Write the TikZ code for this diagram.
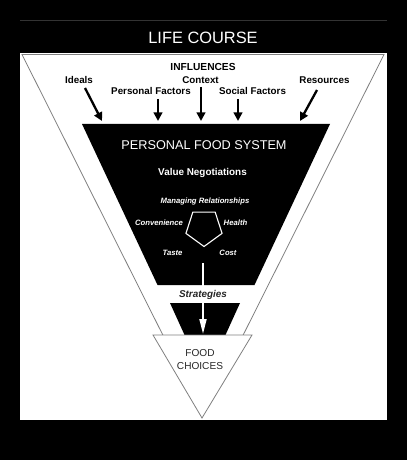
\documentclass[tikz,border=0pt]{standalone}
\usepackage{fontspec}
\setmainfont{Liberation Sans}
\usetikzlibrary{arrows.meta,shapes.geometric}
\begin{document}
\begin{tikzpicture}[x=1bp,y=-1bp,
  inf/.style={font=\fontsize{9.8bp}{11bp}\selectfont\bfseries, inner sep=0},
  infarrow/.style={line width=2.3bp, -{Triangle[length=8.5bp,width=8.5bp]}},
  wt/.style={text=white, inner sep=0},
  sm/.style={font=\fontsize{7.7bp}{9bp}\selectfont\bfseries\itshape, text=white, inner sep=0},
  outline/.style={draw=gray, line width=0.8bp}
]
\fill[black] (0,0) rectangle (407,460);
\useasboundingbox (0,0) rectangle (407,460);
\fill[white] (20,20) rectangle (387,420);
\fill[black!80] (20,20) rectangle (387,22);
\fill[black] (20,21.5) rectangle (387,53);
% big triangle
\draw[outline] (22,54.5) -- (384,54.5) -- (203,415) -- cycle;
% personal food system trapezoid
\fill[black] (82,124) -- (330,124) -- (254.5,285) -- (157.5,285) -- cycle;
% strategies trapezoid
\fill[black] (170,303) -- (240,303) -- (225,336) -- (185,336) -- cycle;
% food choices triangle
\draw[outline, fill=white] (153,335) -- (252,335) -- (202,418) -- cycle;

\node[wt, font=\fontsize{16.4bp}{18bp}\selectfont] (life) at (203,38) {LIFE COURSE};
\node[inf, font=\fontsize{10.2bp}{12bp}\selectfont\bfseries] (infl) at (203,67) {INFLUENCES};
\node[inf] (ideals) at (79,80) {Ideals};
\node[inf] (context) at (200.5,80) {Context};
\node[inf] (res) at (324.5,80) {Resources};
\node[inf] (pers) at (151,91) {Personal Factors};
\node[inf] (soc) at (252.5,91) {Social Factors};

\coordinate (a1) at (85,88);   \coordinate (b1) at (102,121);
\coordinate (a2) at (158,99);  \coordinate (b2) at (158,121);
\coordinate (a3) at (201,87);  \coordinate (b3) at (201,121);
\coordinate (a4) at (238,99);  \coordinate (b4) at (238,121);
\coordinate (a5) at (317,90);  \coordinate (b5) at (300,121);
\foreach \i in {1,...,5} \draw[infarrow] (a\i) -- (b\i);

\node[wt, font=\fontsize{12.7bp}{14bp}\selectfont] (pfs) at (204,145) {PERSONAL FOOD SYSTEM};
\node[wt, font=\fontsize{9.9bp}{11bp}\selectfont\bfseries] (vn) at (202.5,173) {Value Negotiations};
\node[sm] (mr) at (205,202) {Managing Relationships};
\node[sm] (conv) at (159,223) {Convenience};
\node[sm] (health) at (235.5,223) {Health};
\node[sm] (taste) at (172.5,253) {Taste};
\node[sm] (cost) at (228,253) {Cost};
\node[regular polygon, regular polygon sides=5, shape border rotate=180, draw=white,
      line width=1.1bp, minimum size=38bp, inner sep=0] (pent) at (204,227.5) {};

\coordinate (s0) at (203,263);
\coordinate (s1) at (203,334);
\draw[white, line width=1.8bp, -{Triangle[length=15bp,width=7bp]}] (s0) -- (s1);

\node[inner sep=0, text=black!85, font=\fontsize{9.9bp}{11bp}\selectfont\bfseries\itshape] (strat) at (203,295) {Strategies};
\node[inner sep=0, text=black!85, align=center, font=\fontsize{10.1bp}{13bp}\selectfont] (fc) at (200,359.5) {FOOD\\CHOICES};
\end{tikzpicture}
\end{document}
